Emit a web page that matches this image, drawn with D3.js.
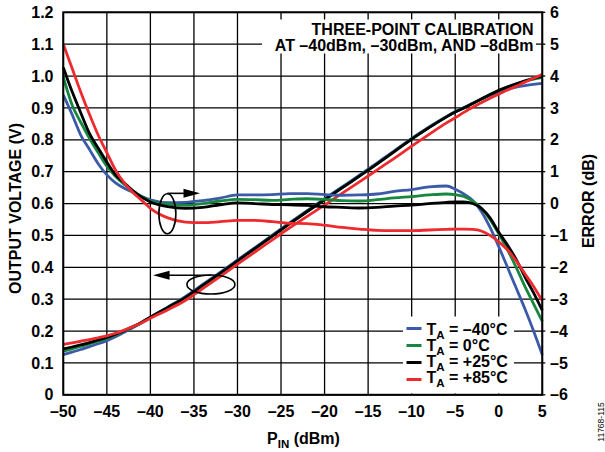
<!DOCTYPE html>
<html><head><meta charset="utf-8">
<script src="https://cdn.jsdelivr.net/npm/d3@7"></script>
<style>
body{margin:0;background:#fff}
text{font-family:"Liberation Sans",Arial,sans-serif;font-weight:bold;fill:#000}
</style>
</head><body>
<svg id="c" width="605" height="452"></svg>
<script>
// ---------- data ----------
const pin = [-50,-49,-48,-47,-46,-45,-44,-43,-42,-41,-40,-38,-36,-34,-32,-30,-28,-26,-24,-22,-20,-18,-16,-14,-12,-10,-8,-6,-5,-4,-3,-2,-1,0,1,2,3,4,5];

const voltM40 = [0.126,0.134,0.142,0.151,0.160,0.170,0.182,0.196,0.211,0.226,0.243,0.275,0.308,0.346,0.384,0.423,0.462,0.501,0.540,0.578,0.615,0.652,0.689,0.727,0.765,0.804,0.840,0.873,0.888,0.901,0.914,0.927,0.939,0.949,0.958,0.965,0.970,0.974,0.977];
const volt0   = [0.137,0.144,0.152,0.160,0.168,0.177,0.188,0.200,0.213,0.227,0.243,0.274,0.305,0.343,0.381,0.420,0.459,0.498,0.537,0.575,0.612,0.649,0.686,0.724,0.763,0.802,0.838,0.872,0.887,0.900,0.914,0.928,0.942,0.954,0.965,0.975,0.983,0.990,0.995];
const volt25  = [0.144,0.150,0.157,0.164,0.172,0.180,0.190,0.201,0.214,0.228,0.244,0.274,0.305,0.343,0.381,0.420,0.459,0.498,0.537,0.575,0.612,0.649,0.686,0.724,0.763,0.802,0.838,0.872,0.887,0.900,0.914,0.928,0.942,0.955,0.966,0.976,0.985,0.993,1.000];
const volt85  = [0.158,0.163,0.168,0.173,0.179,0.185,0.193,0.203,0.214,0.226,0.240,0.267,0.296,0.333,0.371,0.410,0.448,0.486,0.524,0.560,0.595,0.632,0.668,0.705,0.742,0.780,0.817,0.853,0.869,0.886,0.902,0.916,0.930,0.943,0.956,0.968,0.981,0.993,1.006];

const errM40 = [3.41,2.8,2.15,1.7,1.25,0.9,0.65,0.48,0.35,0.22,0.12,0.03,0.04,0.09,0.17,0.27,0.27,0.28,0.31,0.31,0.28,0.26,0.27,0.3,0.38,0.44,0.52,0.55,0.45,0.3,0.1,-0.25,-0.75,-1.35,-2.0,-2.65,-3.3,-4.0,-4.75];
const err0   = [3.97,3.1,2.55,2.05,1.6,1.17,0.85,0.6,0.4,0.22,0.08,-0.02,-0.06,0.0,0.08,0.13,0.12,0.1,0.13,0.15,0.13,0.09,0.08,0.12,0.18,0.22,0.27,0.3,0.28,0.22,0.08,-0.15,-0.5,-0.95,-1.45,-2.0,-2.6,-3.15,-3.7];
const err25  = [4.27,3.52,2.85,2.2,1.74,1.3,0.9,0.65,0.4,0.2,0.05,-0.1,-0.15,-0.12,-0.04,0.02,0.0,-0.03,-0.04,-0.06,-0.1,-0.12,-0.14,-0.12,-0.08,-0.05,0.0,0.04,0.05,0.05,0.0,-0.15,-0.45,-0.9,-1.3,-1.75,-2.3,-2.8,-3.35];
const err85  = [5.0,4.25,3.5,2.8,2.15,1.6,1.05,0.65,0.35,0.1,-0.15,-0.45,-0.58,-0.6,-0.57,-0.53,-0.53,-0.57,-0.62,-0.63,-0.68,-0.75,-0.8,-0.84,-0.85,-0.85,-0.83,-0.81,-0.8,-0.8,-0.81,-0.86,-1.0,-1.2,-1.45,-1.8,-2.2,-2.6,-3.05];

const legendTemps = ["–40°C","0°C","+25°C","+85°C"];
const seriesColors = ["#3c5aa8","#17873f","#000000","#ee2a2e"];

const pinTicks = [-50,-45,-40,-35,-30,-25,-20,-15,-10,-5,0,5];
const pinTickLabels = ["–50","–45","–40","–35","–30","–25","–20","–15","–10","–5","0","5"];
const voltTicks = [0,0.1,0.2,0.3,0.4,0.5,0.6,0.7,0.8,0.9,1.0,1.1,1.2];
const voltTickLabels = ["0","0.1","0.2","0.3","0.4","0.5","0.6","0.7","0.8","0.9","1.0","1.1","1.2"];
const errTicks = [-6,-5,-4,-3,-2,-1,0,1,2,3,4,5,6];
const errTickLabels = ["–6","–5","–4","–3","–2","–1","0","1","2","3","4","5","6"];

// ---------- chart ----------
const svg = d3.select("#c");
const x  = d3.scaleLinear().domain([-50,5]).range([63.3,542.3]);
const yV = d3.scaleLinear().domain([0,1.2]).range([394.8,12.3]);
const yE = d3.scaleLinear().domain([-6,6]).range([394.8,12.3]);

// grid
const grid = svg.append("g");
grid.selectAll("line.v").data(pinTicks).join("line").attr("class","v")
  .attr("x1",d=>x(d)).attr("x2",d=>x(d)).attr("y1",yV(1.2)).attr("y2",yV(0))
  .attr("stroke","#000").attr("stroke-width",1.3);
grid.selectAll("line.h").data(voltTicks).join("line").attr("class","h")
  .attr("x1",x(-50)).attr("x2",x(5)).attr("y1",d=>yV(d)).attr("y2",d=>yV(d))
  .attr("stroke","#000").attr("stroke-width",1.3);
// right-axis outward ticks
grid.selectAll("line.rt").data(errTicks).join("line").attr("class","rt")
  .attr("x1",x(5)).attr("x2",x(5)+3).attr("y1",d=>yE(d)).attr("y2",d=>yE(d))
  .attr("stroke","#000").attr("stroke-width",1.3);

// white boxes (annotation + legend)
svg.append("rect").attr("x",262).attr("y",19.5).attr("width",274).attr("height",34).attr("fill","#fff");
svg.append("rect").attr("x",403).attr("y",316.5).attr("width",111).attr("height",77).attr("fill","#fff");

// curves
const mk = sc => d3.line().x((d,i)=>x(pin[i])).y(d=>sc(d)).curve(d3.curveMonotoneX);
const voltSeries = [voltM40, volt0, volt25, volt85];
const errSeries  = [errM40, err0, err25, err85];
const curves = svg.append("g");
voltSeries.forEach((s,k)=>{
  curves.append("path").attr("d",mk(yV)(s)).attr("fill","none")
    .attr("stroke",seriesColors[k]).attr("stroke-width",2.8).attr("stroke-linejoin","round");
});
errSeries.forEach((s,k)=>{
  curves.append("path").attr("d",mk(yE)(s)).attr("fill","none")
    .attr("stroke",seriesColors[k]).attr("stroke-width",2.8).attr("stroke-linejoin","round");
});

// frame
svg.append("rect").attr("x",x(-50)).attr("y",yV(1.2)).attr("width",x(5)-x(-50)).attr("height",yV(0)-yV(1.2))
  .attr("fill","none").attr("stroke","#000").attr("stroke-width",2);

// annotations: ellipses and arrows
const ann = svg.append("g").attr("stroke","#000").attr("stroke-width",1.6).attr("fill","none");
ann.append("ellipse").attr("cx",x(-38.05)).attr("cy",yV(0.568)).attr("rx",8.5).attr("ry",20);
ann.append("line").attr("x1",x(-38.05)).attr("x2",x(-36.0)).attr("y1",yV(0.632)).attr("y2",yV(0.632));
svg.append("path").attr("d",`M${x(-34.3)},${yV(0.632)} L${x(-36.2)},${yV(0.632)-4.5} L${x(-36.2)},${yV(0.632)+4.5} Z`).attr("fill","#000");
ann.append("ellipse").attr("cx",x(-33.05)).attr("cy",yV(0.346)).attr("rx",24).attr("ry",9.5);
ann.append("line").attr("x1",x(-33.05)).attr("x2",x(-38)).attr("y1",yV(0.375)).attr("y2",yV(0.375));
svg.append("path").attr("d",`M${x(-39.7)},${yV(0.375)} L${x(-37.8)},${yV(0.375)-4.5} L${x(-37.8)},${yV(0.375)+4.5} Z`).attr("fill","#000");

// tick labels
const fs = 16;
svg.append("g").selectAll("text").data(voltTicks).join("text")
  .attr("x",53.5).attr("y",d=>yV(d)+5.6).attr("text-anchor","end").attr("font-size",fs)
  .text((d,i)=>voltTickLabels[i]);
svg.append("g").selectAll("text").data(errTicks).join("text")
  .attr("x",550).attr("y",d=>yE(d)+5.6).attr("text-anchor","start").attr("font-size",fs)
  .text((d,i)=>errTickLabels[i]);
svg.append("g").selectAll("text").data(pinTicks).join("text")
  .attr("x",d=>x(d)).attr("y",416.5).attr("text-anchor","middle").attr("font-size",fs)
  .text((d,i)=>pinTickLabels[i]);

// axis titles
const xt = svg.append("text").attr("x",303.5).attr("y",443.5).attr("text-anchor","middle").attr("font-size",fs);
xt.append("tspan").text("P");
xt.append("tspan").attr("font-size",11.5).attr("dy",4).text("IN");
xt.append("tspan").attr("dy",-4).text(" (dBm)");

svg.append("text").attr("transform","translate(21,208.5) rotate(-90)").attr("text-anchor","middle")
  .attr("font-size",fs).text("OUTPUT VOLTAGE (V)");
svg.append("text").attr("transform","translate(594,201) rotate(-90)").attr("text-anchor","middle")
  .attr("font-size",fs).text("ERROR (dB)");

// calibration note
svg.append("text").attr("x",533.5).attr("y",34.5).attr("text-anchor","end").attr("font-size",fs)
  .text("THREE-POINT CALIBRATION");
svg.append("text").attr("x",533.5).attr("y",50.5).attr("text-anchor","end").attr("font-size",fs)
  .text("AT –40dBm, –30dBm, AND –8dBm");

// legend
const lg = svg.append("g");
legendTemps.forEach((t,i)=>{
  const by = 335 + i*15.85;
  lg.append("line").attr("x1",406.5).attr("x2",421.5).attr("y1",328.5+i*17).attr("y2",328.5+i*17)
    .attr("stroke",seriesColors[i]).attr("stroke-width",3);
  const tx = lg.append("text").attr("x",426.5).attr("y",by).attr("font-size",fs);
  tx.append("tspan").text("T");
  tx.append("tspan").attr("font-size",11.5).attr("dy",4).text("A");
  tx.append("tspan").attr("dy",-4).text(" = " + t);
});

// figure id
svg.append("text").attr("transform","translate(604,422) rotate(-90)").attr("text-anchor","middle")
  .attr("font-size",8.5).attr("font-weight","normal").style("font-weight","normal").text("11768-115");
</script>
</body></html>
